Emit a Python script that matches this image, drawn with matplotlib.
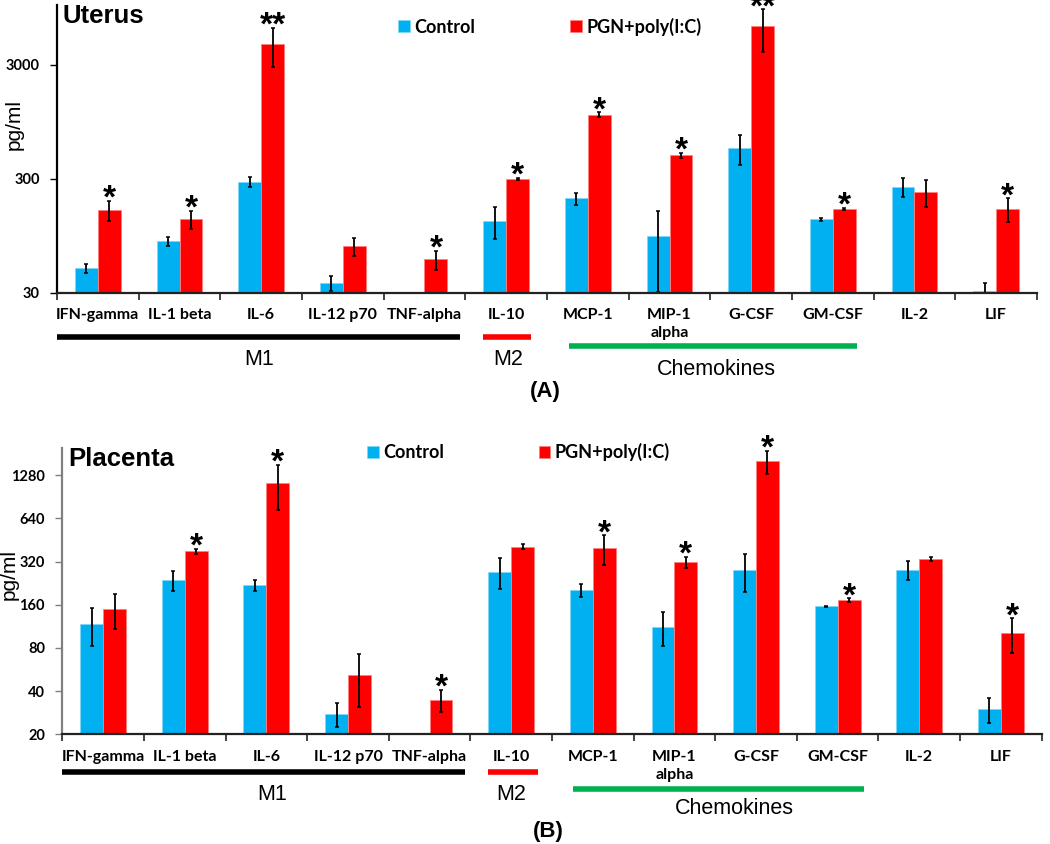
import matplotlib.pyplot as plt
import matplotlib.transforms as mtransforms
from matplotlib.lines import Line2D
from matplotlib.ticker import NullLocator, FixedLocator
import numpy as np

# Data
cytokines = ['IFN-gamma', 'IL-1 beta', 'IL-6', 'IL-12 p70', 'TNF-alpha', 'IL-10',
             'MCP-1', 'MIP-1\nalpha', 'G-CSF', 'GM-CSF', 'IL-2', 'LIF']

# (A) Uterus, pg/ml
uterus_ctrl = [49, 85, 281, 36.5, np.nan, 128, 201, 93.5, 558, 132, 254, 30.8]
uterus_ctrl_err = [4.5, 7.7, 30, 5.5, np.nan, 40, 24, 63, 163, 4, 47, 6]
uterus_pgn = [160, 133, 4580, 77, 58.8, 300, 1095, 482, 6490, 163, 230, 163]
uterus_pgn_err = [32, 24, 1745, 14, 11, 6, 52, 23, 2650, 3, 60, 39]
uterus_sig = ['*', '*', '**', '', '*', '*', '*', '*', '**', '*', '', '*']

# (B) Placenta, pg/ml
placenta_ctrl = [117, 238, 219, 27.8, np.nan, 272, 202, 112, 279, 156, 279, 29.9]
placenta_ctrl_err = [35, 37, 19.5, 5.4, np.nan, 65, 20, 30, 83, 2, 42, 6]
placenta_pgn = [149, 377, 1122, 51.6, 34.8, 406, 396, 317, 1598, 172, 333, 101]
placenta_pgn_err = [40, 14, 390, 20.7, 6, 15, 92, 28, 296, 5, 11, 27.5]
placenta_sig = ['', '*', '*', '', '*', '', '*', '*', '*', '*', '', '*']

BLUE = '#00B0F0'
RED = '#FF0000'
GREEN = '#00B050'
TICKFONT = 'Lato'
ARIAL = 'Liberation Sans'

fig = plt.figure(figsize=(10.5, 8.44), dpi=100)


def px(y):
    # pixel row -> figure fraction
    return 1 - y / 844.0


def panel(rect, ctrl, ctrl_err, pgn, pgn_err, sig, title, log_base, ylim, yticks,
          spine_color, ylabel_xy, legend_xy, groups, group_lbl_y, panel_lbl):
    ax = fig.add_axes(rect)
    x = np.arange(len(cytokines))
    w = 0.28
    ax.bar(x - w / 2, ctrl, w, color=BLUE, edgecolor='#7fd7f7', linewidth=0.6,
           label='Control')
    ax.bar(x + w / 2, pgn, w, color=RED, edgecolor='#ff8080', linewidth=0.6,
           label='PGN+poly(I:C)')
    ax.errorbar(x - w / 2, ctrl, yerr=ctrl_err, fmt='none', ecolor='black',
                elinewidth=1.3, capsize=1.6, capthick=1.1)
    ax.errorbar(x + w / 2, pgn, yerr=pgn_err, fmt='none', ecolor='black',
                elinewidth=1.3, capsize=1.6, capthick=1.1)

    for i, s in enumerate(sig):
        if s:
            top = pgn[i] + pgn_err[i]
            ax.annotate(s, (x[i] + w / 2, top), xytext=(0, -5),
                        textcoords='offset points', ha='center', va='baseline',
                        fontsize=24, fontweight='bold', family=ARIAL,
                        annotation_clip=False)

    ax.set_yscale('log', base=log_base)
    ax.set_ylim(*ylim)
    ax.set_xlim(-0.5, len(cytokines) - 0.5)
    ax.yaxis.set_major_locator(FixedLocator(yticks))
    ax.yaxis.set_minor_locator(NullLocator())
    ax.set_yticklabels([str(t) for t in yticks], fontweight='bold',
                       family=TICKFONT, fontsize=10.5)

    ax.set_xticks(np.arange(-0.5, len(cytokines)), labels=[''] * (len(cytokines) + 1))
    ax.set_xticks(x, labels=cytokines, minor=True)
    ax.tick_params(axis='x', which='major', direction='out', length=5, width=1.2,
                   color='#222222')
    ax.tick_params(axis='x', which='minor', length=0, pad=11)
    ax.tick_params(axis='y', direction='out', length=5, width=1, color=spine_color,
                   pad=7.5)
    for lab in ax.get_xticklabels(minor=True):
        lab.set_fontweight('bold')
        lab.set_family(TICKFONT)
        lab.set_fontsize(11.5)
        lab.set_linespacing(1.4)

    ax.spines['top'].set_visible(False)
    ax.spines['right'].set_visible(False)
    ax.spines['left'].set_color(spine_color)
    ax.spines['left'].set_linewidth(1.6)
    ax.spines['bottom'].set_color('#222222')
    ax.spines['bottom'].set_linewidth(1.6)

    fig.text(ylabel_xy[0] / 1050.0, px(ylabel_xy[1]), 'pg/ml', rotation=90,
             ha='center', va='center', family=ARIAL, fontsize=15)
    ax.text(0.006, 1.005, title, transform=ax.transAxes, ha='left', va='top',
            family=ARIAL, fontweight='bold', fontsize=18.5)

    ax.legend(loc='upper left', bbox_to_anchor=legend_xy, ncol=2,
              frameon=False, prop={'family': TICKFONT, 'weight': 'bold', 'size': 13},
              handlelength=0.65, handleheight=0.65, columnspacing=5.25,
              handletextpad=0.25, borderaxespad=0.3)

    trans = mtransforms.blended_transform_factory(ax.transData, fig.transFigure)
    for (x0, x1, yline, color, name, xl) in groups:
        fig.add_artist(Line2D([x0, x1], [px(yline), px(yline)], transform=trans,
                              color=color, linewidth=4, solid_capstyle='butt'))
    for (x0, x1, yline, color, name, xl), yl in zip(groups, group_lbl_y):
        fig.text(xl, px(yl), name, transform=trans, ha='center', va='center',
                 family=ARIAL, fontsize=15.5)
    fig.text(panel_lbl[0] / 1050.0, px(panel_lbl[1]), panel_lbl[2], ha='center',
             va='center', family=ARIAL, fontweight='bold', fontsize=16)
    return ax


# Panel A
panel([57 / 1050, px(292.7), 980 / 1050, 287.7 / 844],
      uterus_ctrl, uterus_ctrl_err, uterus_pgn, uterus_pgn_err, uterus_sig,
      'Uterus', 10, (30, 10000), [30, 300, 3000], 'black', (14, 125), (0.335, 1.0),
      [(-0.496, 4.44, 337.3, 'black', 'M1', 1.98),
       (4.72, 5.31, 337.3, RED, 'M2', 5.02),
       (5.77, 9.29, 345.7, GREEN, 'Chemokines', 7.58)],
      [360, 360, 369.3], (545, 391.7, '(A)'))

# Panel B
panel([62.3 / 1050, px(734.3), 979.4 / 1050, 286 / 844],
      placenta_ctrl, placenta_ctrl_err, placenta_pgn, placenta_pgn_err, placenta_sig,
      'Placenta', 2, (20, 1970), [20, 40, 80, 160, 320, 640, 1280], '#808080',
      (9, 575), (0.298, 1.063),
      [(-0.5, 4.43, 772.3, 'black', 'M1', 2.07),
       (4.72, 5.33, 772.3, RED, 'M2', 5.0),
       (5.76, 9.32, 789, GREEN, 'Chemokines', 7.73)],
      [795, 795, 808], (548, 831.7, '(B)'))

fig.savefig('out.png', dpi=100)
